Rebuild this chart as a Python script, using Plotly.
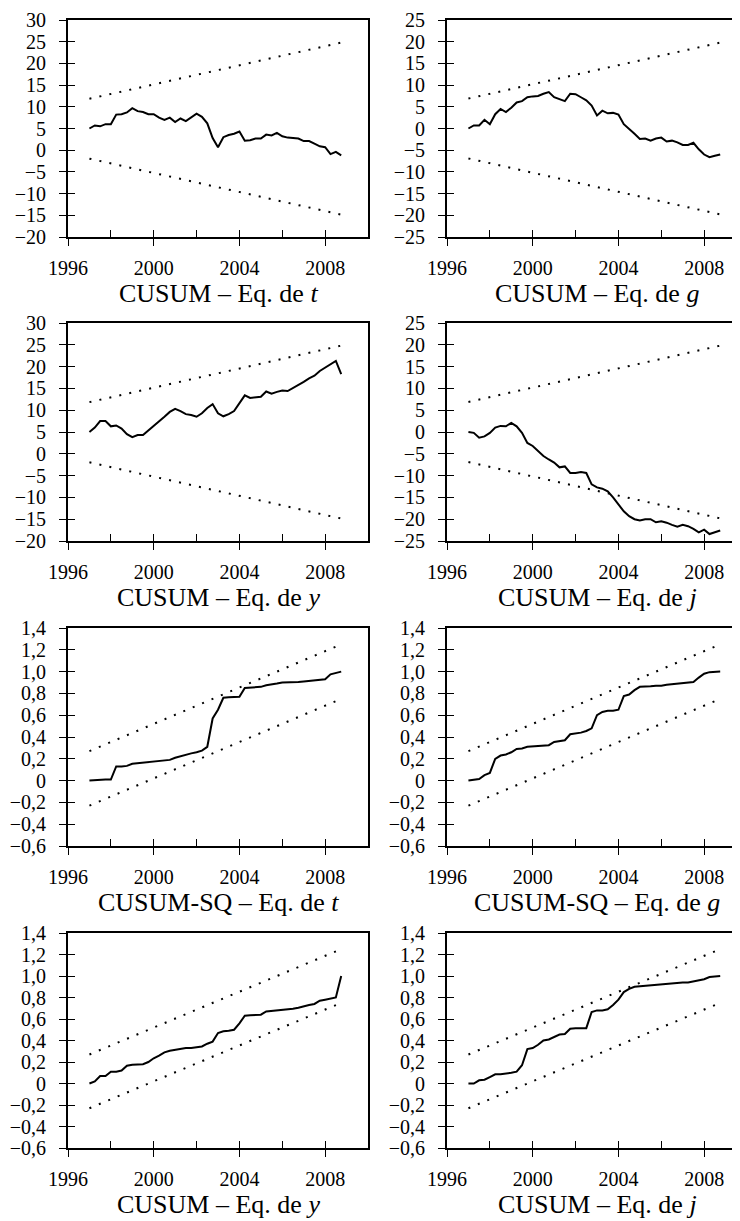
import plotly.graph_objects as go

# ---------------- data (quarterly, 1997Q1 .. 2008Q4) ----------------
years = [1997 + q / 4 for q in range(48)]

cusum_t = [5.0, 5.7, 5.5, 6.0, 6.0, 8.2, 8.3, 8.7, 9.7, 9.0, 8.8, 8.3,
           8.3, 7.5, 7.0, 7.5, 6.5, 7.3, 6.7, 7.5, 8.4, 7.7, 6.2, 2.8,
           0.7, 3.0, 3.5, 3.8, 4.3, 2.2, 2.3, 2.7, 2.7, 3.6, 3.4, 4.0,
           3.2, 2.9, 2.8, 2.7, 2.1, 2.1, 1.5, 0.9, 0.7, -0.9, -0.4, -1.2]
cusum_g = [0.0, 0.7, 0.7, 2.0, 1.0, 3.3, 4.5, 3.8, 4.8, 6.0, 6.3, 7.2,
           7.4, 7.5, 8.0, 8.4, 7.2, 6.8, 6.3, 8.0, 7.9, 7.2, 6.5, 5.3,
           3.0, 4.1, 3.5, 3.6, 3.2, 1.0, 0.0, -1.2, -2.4, -2.3, -2.8, -2.3,
           -2.1, -3.0, -2.8, -3.2, -3.8, -3.8, -3.3, -4.8, -6.0, -6.6, -6.3, -6.0]
cusum_y = [5.0, 6.0, 7.5, 7.5, 6.3, 6.5, 5.8, 4.5, 3.8, 4.3, 4.3, 5.3,
           6.5, 7.5, 8.5, 9.6, 10.3, 9.8, 9.1, 8.9, 8.5, 9.3, 10.5, 11.4,
           9.3, 8.6, 9.1, 9.8, 11.5, 13.4, 12.8, 12.9, 13.1, 14.3, 13.8, 14.2,
           14.5, 14.4, 15.1, 15.7, 16.5, 17.3, 17.9, 19.0, 19.8, 20.6, 21.3, 18.3]
cusum_j = [0.0, -0.2, -1.3, -1.0, -0.2, 1.0, 1.4, 1.3, 2.1, 1.3, -0.2, -2.5,
           -3.2, -4.3, -5.5, -6.3, -7.0, -8.1, -7.9, -9.4, -9.4, -9.2, -9.4, -12.0,
           -12.7, -13.0, -13.6, -15.0, -16.6, -18.2, -19.3, -20.0, -20.3, -20.0, -20.0, -20.7,
           -20.5, -20.8, -21.3, -21.7, -21.3, -21.6, -22.2, -23.0, -22.4, -23.4, -23.0, -22.6]
cusumsq_t = [0.0, 0.005, 0.005, 0.01, 0.01, 0.13, 0.13, 0.135, 0.155, 0.16, 0.165, 0.17,
             0.17, 0.18, 0.185, 0.19, 0.21, 0.225, 0.235, 0.25, 0.26, 0.275, 0.31, 0.57,
             0.65, 0.76, 0.765, 0.765, 0.77, 0.85, 0.855, 0.855, 0.86, 0.875, 0.88, 0.89,
             0.9, 0.9, 0.9, 0.905, 0.91, 0.915, 0.92, 0.925, 0.93, 0.975, 0.985, 1.0]
cusumsq_g = [0.0, 0.01, 0.015, 0.05, 0.07, 0.2, 0.23, 0.24, 0.26, 0.29, 0.295, 0.31,
             0.315, 0.315, 0.32, 0.325, 0.355, 0.36, 0.37, 0.425, 0.43, 0.44, 0.455, 0.48,
             0.6, 0.63, 0.64, 0.64, 0.65, 0.775, 0.79, 0.83, 0.86, 0.86, 0.865, 0.87,
             0.87, 0.88, 0.885, 0.89, 0.895, 0.9, 0.905, 0.945, 0.98, 0.995, 1.0, 1.0]
cusumsq_y = [0.0, 0.02, 0.07, 0.07, 0.11, 0.11, 0.12, 0.165, 0.175, 0.18, 0.18, 0.2,
             0.235, 0.26, 0.29, 0.305, 0.315, 0.32, 0.33, 0.33, 0.335, 0.345, 0.37, 0.39,
             0.47, 0.485, 0.49, 0.5, 0.56, 0.63, 0.635, 0.635, 0.64, 0.67, 0.675, 0.68,
             0.68, 0.685, 0.695, 0.705, 0.72, 0.73, 0.74, 0.77, 0.78, 0.79, 0.8, 1.0]
cusumsq_j = [0.0, 0.0, 0.03, 0.035, 0.06, 0.085, 0.085, 0.09, 0.1, 0.11, 0.17, 0.32,
             0.33, 0.36, 0.4, 0.41, 0.43, 0.455, 0.46, 0.51, 0.515, 0.515, 0.515, 0.665,
             0.68, 0.68, 0.69, 0.73, 0.78, 0.85, 0.88, 0.9, 0.905, 0.905, 0.91, 0.92,
             0.92, 0.925, 0.93, 0.935, 0.94, 0.94, 0.95, 0.96, 0.97, 0.99, 0.995, 1.0]

# 5% significance bands (start, end)
band_x = [1997.0, 2008.75]
band_t_up, band_t_lo = [11.85, 24.8], [-1.95, -14.85]
band_c_up, band_c_lo = [6.9, 19.8], [-6.9, -19.8]
band_sq_up, band_sq_lo = [0.27, 1.25], [-0.23, 0.75]

# tick labels
xticks = [1996, 2000, 2004, 2008]
xminor = [1996, 1998, 2000, 2002, 2004, 2006, 2008, 2010]
yt_left = [-20, -15, -10, -5, 0, 5, 10, 15, 20, 25, 30]
yt_right = [-25, -20, -15, -10, -5, 0, 5, 10, 15, 20, 25]
yt_sq = [-0.6, -0.4, -0.2, 0, 0.2, 0.4, 0.6, 0.8, 1.0, 1.2, 1.4]
yt_sq_text = ["\u22120,6", "\u22120,4", "\u22120,2", "0", "0,2", "0,4",
              "0,6", "0,8", "1,0", "1,2", "1,4"]

titles = ["CUSUM \u2013 Eq. de <i>t</i>", "CUSUM \u2013 Eq. de <i>g</i>",
          "CUSUM \u2013 Eq. de <i>y</i>", "CUSUM \u2013 Eq. de <i>j</i>",
          "CUSUM-SQ \u2013 Eq. de <i>t</i>", "CUSUM-SQ \u2013 Eq. de <i>g</i>",
          "CUSUM \u2013 Eq. de <i>y</i>", "CUSUM \u2013 Eq. de <i>j</i>"]

panels = [
    (cusum_t, band_t_up, band_t_lo, yt_left, None),
    (cusum_g, band_c_up, band_c_lo, yt_right, None),
    (cusum_y, band_t_up, band_t_lo, yt_left, None),
    (cusum_j, band_c_up, band_c_lo, yt_right, None),
    (cusumsq_t, band_sq_up, band_sq_lo, yt_sq, yt_sq_text),
    (cusumsq_g, band_sq_up, band_sq_lo, yt_sq, yt_sq_text),
    (cusumsq_y, band_sq_up, band_sq_lo, yt_sq, yt_sq_text),
    (cusumsq_j, band_sq_up, band_sq_lo, yt_sq, yt_sq_text),
]

# ---------------- layout geometry ----------------
# the page body has an 8px margin, so the figure is drawn 8px smaller
OFF = 8
W, H = 740 - OFF, 1221 - OFF
col_px = [(68, 368), (447, 740)]
row_px = [(20, 237), (323, 541), (628, 846), (933, 1148)]
px_per_year = 300 / 14.0

FONT = "Liberation Serif"
fig = go.Figure()
layout = dict(width=W, height=H, margin=dict(l=0, r=0, t=0, b=0, autoexpand=False),
              paper_bgcolor="white", plot_bgcolor="white", showlegend=False,
              font=dict(family=FONT, color="black"))
annotations = []

for k, (series, up, lo, ytv, ytt) in enumerate(panels):
    r, c = divmod(k, 2)
    i = k + 1
    j = k + 9
    x0, x1 = col_px[c]
    top, bot = row_px[r]
    xdom = [(x0 - OFF) / W, min(1.0, (x1 - OFF) / W)]
    ydom = [1 - (bot - OFF) / H, 1 - (top - OFF) / H]
    xr = [1996, 1996 + (x1 - x0) / px_per_year]
    yr = [ytv[0], ytv[-1]]
    xa, ya = f"x{i}", f"y{i}"
    xo, yo = f"x{j}", f"y{j}"

    for band in (up, lo):
        fig.add_trace(go.Scatter(x=band_x, y=band, mode="lines", xaxis=xa, yaxis=ya,
                                 line=dict(color="black", width=2, dash="2px,8.2px"),
                                 hoverinfo="skip"))
    fig.add_trace(go.Scatter(x=years, y=series, mode="lines", xaxis=xa, yaxis=ya,
                             line=dict(color="black", width=2), hoverinfo="skip"))
    # overlay pair for inside tick marks
    fig.add_trace(go.Scatter(x=[None], y=[None], mode="lines", xaxis=xo, yaxis=yo,
                             hoverinfo="skip"))

    layout[f"xaxis{i}"] = dict(domain=xdom, range=xr, anchor=ya, showgrid=False,
                               zeroline=False, showline=True, linecolor="black",
                               linewidth=2, mirror=True, ticks="outside",
                               ticklen=7, tickwidth=1, tickcolor="black",
                               tickvals=xticks, ticktext=[str(v) for v in xticks],
                               tickfont=dict(family=FONT, size=20),
                               ticklabelstandoff=5, automargin=False,
                               fixedrange=True)
    ydict = dict(domain=ydom, range=yr, anchor=xa, showgrid=False, zeroline=False,
                 showline=True, linecolor="black", linewidth=2,
                 mirror=(c == 0), ticks="outside", ticklen=7, tickwidth=1,
                 tickcolor="black", tickvals=ytv,
                 tickfont=dict(family=FONT, size=20),
                 ticklabelstandoff=9, automargin=False, fixedrange=True)
    if ytt is not None:
        ydict["ticktext"] = ytt
    else:
        ydict["ticktext"] = [("\u2212" + str(-v)) if v < 0 else str(v) for v in ytv]
    layout[f"yaxis{i}"] = ydict
    layout[f"xaxis{j}"] = dict(overlaying=xa, range=xr, anchor=yo, showgrid=False,
                               zeroline=False, showline=False, ticks="inside",
                               ticklen=7, tickwidth=1, tickcolor="black",
                               tickvals=xminor, showticklabels=False,
                               automargin=False, fixedrange=True)
    layout[f"yaxis{j}"] = dict(overlaying=ya, range=yr, anchor=xo, showgrid=False,
                               zeroline=False, showline=False, ticks="inside",
                               ticklen=7, tickwidth=1, tickcolor="black",
                               tickvals=ytv, showticklabels=False,
                               automargin=False, fixedrange=True)

    cx = (x0 + 150) if c == 1 else (x0 + x1) / 2
    annotations.append(dict(text=titles[k], xref="paper", yref="paper",
                            x=(cx - OFF) / W, y=1 - (bot + 40 - OFF) / H,
                            xanchor="center", yanchor="top",
                            showarrow=False, font=dict(family=FONT, size=26)))

layout["annotations"] = annotations
fig.update_layout(**layout)
fig.write_html("out.html")
